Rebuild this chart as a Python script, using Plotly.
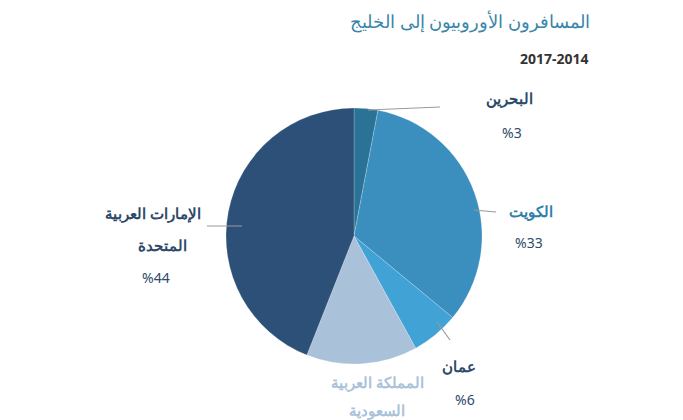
import plotly.graph_objects as go

countries = ["البحرين", "الكويت", "عمان", "المملكة العربية السعودية", "الإمارات العربية المتحدة"]
shares = [3, 33, 6, 14, 44]
colors = ["#2b7396", "#3b8fbf", "#41a2d6", "#a9c2da", "#2c5078"]

W, H = 683, 420
def px(x, y):
    return x / W, 1 - y / H

fig = go.Figure(go.Pie(
    labels=countries, values=shares, sort=False, direction="clockwise", rotation=0,
    marker=dict(colors=colors, line=dict(color="rgba(255,255,255,0.35)", width=0.6)),
    textinfo="none", hoverinfo="label+percent", showlegend=False,
    domain=dict(x=[218 / W, 474 / W], y=[1 - 356 / H, 1 - 100 / H]),
))

navy = "#2d4a6a"
labels = [
    ("البحرين", 527, 78, navy, 15), ("%3", 516, 113, navy, 14),
    ("الكويت", 547, 203, "#2f7fa8", 15), ("%33", 537, 234, navy, 14),
    ("عمان", 470, 370, navy, 15), ("%6", 469, 403, navy, 14),
    ("المملكة العربية", 369, 386, "#a9c2da", 15), ("السعودية", 369, 414, "#a9c2da", 15),
    ("الإمارات العربية", 95, 205, navy, 15), ("المتحدة", 128, 237, navy, 15), ("%44", 132, 269, navy, 14),
]
for t, x, y, c, s in labels:
    ax, ay = px(x, y)
    fig.add_annotation(x=ax, y=ay, xref="paper", yref="paper", text=f"<b>{t}</b>" if "%" not in t else t,
                       showarrow=False, font=dict(family="Noto Sans", size=s, color=c))

fig.add_annotation(x=px(584, 0)[0], y=px(584, -1)[1], xref="paper", yref="paper", xanchor="right",
                   text="المسافرون الأوروبيون إلى الخليج", showarrow=False,
                   font=dict(family="Noto Sans", size=18, color="#3a86a8"))
fig.add_annotation(x=px(583, 39)[0], y=px(583, 39)[1], xref="paper", yref="paper", xanchor="right",
                   text="<b>2017-2014</b>", showarrow=False,
                   font=dict(family="Noto Sans", size=14, color="#333333"))

lines = [((360, 102), (432, 99)), ((466, 202), (488, 204)), ((429, 314), (442, 332)), ((234, 218), (199, 218))]
for (x0, y0), (x1, y1) in lines:
    a, b = px(x0, y0)
    c, d = px(x1, y1)
    fig.add_shape(type="line", xref="paper", yref="paper", x0=a, y0=b, x1=c, y1=d,
                  line=dict(color="#9a9a9a", width=1.2))

fig.update_layout(width=W, height=H, margin=dict(l=0, r=0, t=0, b=0),
                  paper_bgcolor="white", plot_bgcolor="white")
fig.write_html("out.html")
